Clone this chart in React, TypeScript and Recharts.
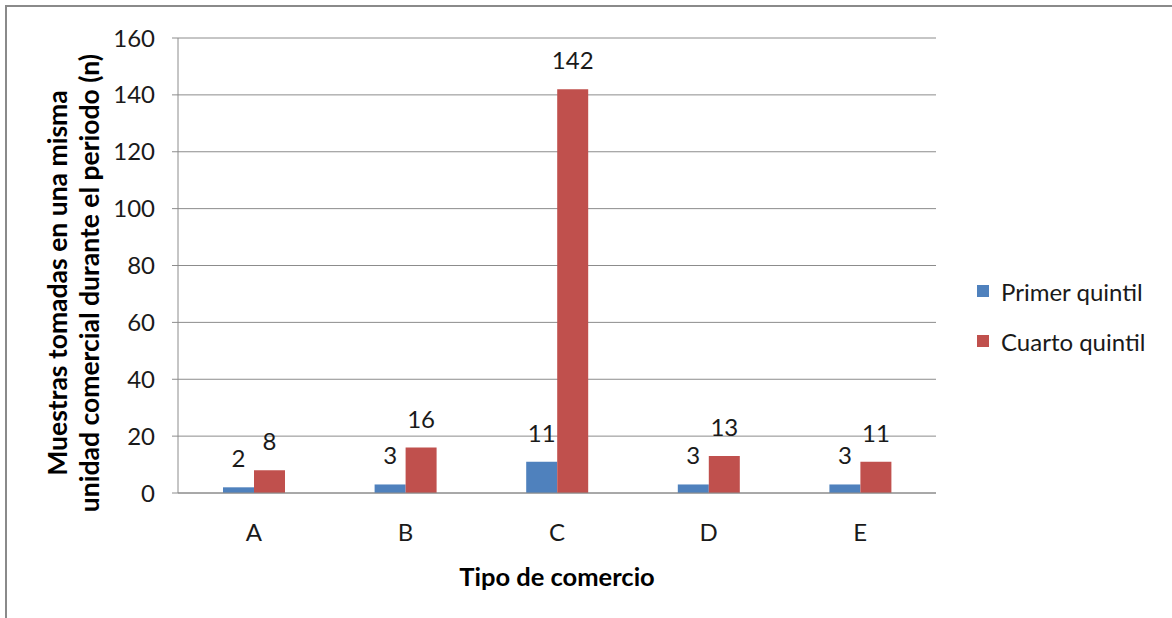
import React from 'react'
import { BarChart, Bar, XAxis, YAxis, CartesianGrid, LabelList, Label } from 'recharts'

/* ─── Data ─────────────────────────────────────────────────────── */

const categories = ['A', 'B', 'C', 'D', 'E']
const primerQuintil = [2, 3, 11, 3, 3]
const cuartoQuintil = [8, 16, 142, 13, 11]
const yTicks = [0, 20, 40, 60, 80, 100, 120, 140, 160]

const seriesNames = ['Primer quintil', 'Cuarto quintil']
const seriesColors = ['#4f81bd', '#c0504d']

const data = categories.map((c, i) => ({
  name: c,
  primer: primerQuintil[i],
  cuarto: cuartoQuintil[i],
}))

/* ─── Styles ───────────────────────────────────────────────────── */

const FONT = 'Lato, "Open Sans", sans-serif'
const GRID = '#8c8c8c'
const TEXT = '#1a1a1a'
const FS = 24

function YTitle() {
  const cx = 62
  const cy = 283
  return (
    <text
      transform={`rotate(-90 ${cx} ${cy})`}
      x={cx}
      y={cy}
      textAnchor="middle"
      fontFamily={FONT}
      fontWeight="bold"
      fontSize={26.5}
      fill="#000"
    >
      <tspan x={cx} dy={5}>Muestras tomadas en una misma</tspan>
      <tspan x={cx} dy={32}>unidad comercial durante el periodo (n)</tspan>
    </text>
  )
}

// legend sits to the right of the plot, outside the chart's layout
function LegendBox() {
  return (
    <div style={{ position: 'absolute', left: 977, top: 277, fontFamily: FONT, fontSize: FS, color: TEXT }}>
      {seriesNames.map((n, i) => (
        <div key={n} style={{ display: 'flex', alignItems: 'center', height: 28, marginBottom: 22 }}>
          <span style={{ width: 12, height: 12, background: seriesColors[i], marginRight: 12 }} />
          <span>{n}</span>
        </div>
      ))}
    </div>
  )
}

export default function App() {
  return (
    <div style={{ position: 'absolute', left: 0, top: 0, width: 1172, height: 618, background: '#fff' }}>
      <div
        style={{
          position: 'absolute',
          left: 5,
          top: 5,
          right: -10,
          bottom: -10,
          borderTop: '2px solid #8a8a8a',
          borderLeft: '2px solid #8a8a8a',
        }}
      />
      <BarChart
        width={1172}
        height={618}
        data={data}
        margin={{ top: 38, right: 236, bottom: 0, left: 0 }}
        barGap={0}
        style={{ position: 'absolute', left: 0, top: 0 }}
      >
        <CartesianGrid stroke={GRID} vertical={false} />
        <XAxis
          dataKey="name"
          height={125}
          tickSize={0}
          tickMargin={31}
          axisLine={{ stroke: GRID }}
          tick={{ fill: TEXT, fontSize: FS, fontFamily: FONT }}
        >
          <Label
            value="Tipo de comercio"
            position="insideBottom"
            offset={32}
            fill="#000"
            fontSize={25.5}
            fontWeight="bold"
            fontFamily={FONT}
          />
        </XAxis>
        <YAxis
          width={178}
          domain={[0, 160]}
          ticks={yTicks}
          interval={0}
          tickSize={6}
          tickMargin={17}
          axisLine={{ stroke: GRID }}
          tickLine={{ stroke: GRID }}
          tick={{ fill: TEXT, fontSize: FS, fontFamily: FONT }}
          label={<YTitle />}
        />
        <Bar dataKey="primer" name={seriesNames[0]} fill={seriesColors[0]} barSize={31} isAnimationActive={false}>
          <LabelList dataKey="primer" position="top" offset={20} fill={TEXT} fontSize={FS} fontFamily={FONT} />
        </Bar>
        <Bar dataKey="cuarto" name={seriesNames[1]} fill={seriesColors[1]} barSize={31} isAnimationActive={false}>
          <LabelList dataKey="cuarto" position="top" offset={20} fill={TEXT} fontSize={FS} fontFamily={FONT} />
        </Bar>
      </BarChart>
      <LegendBox />
    </div>
  )
}
